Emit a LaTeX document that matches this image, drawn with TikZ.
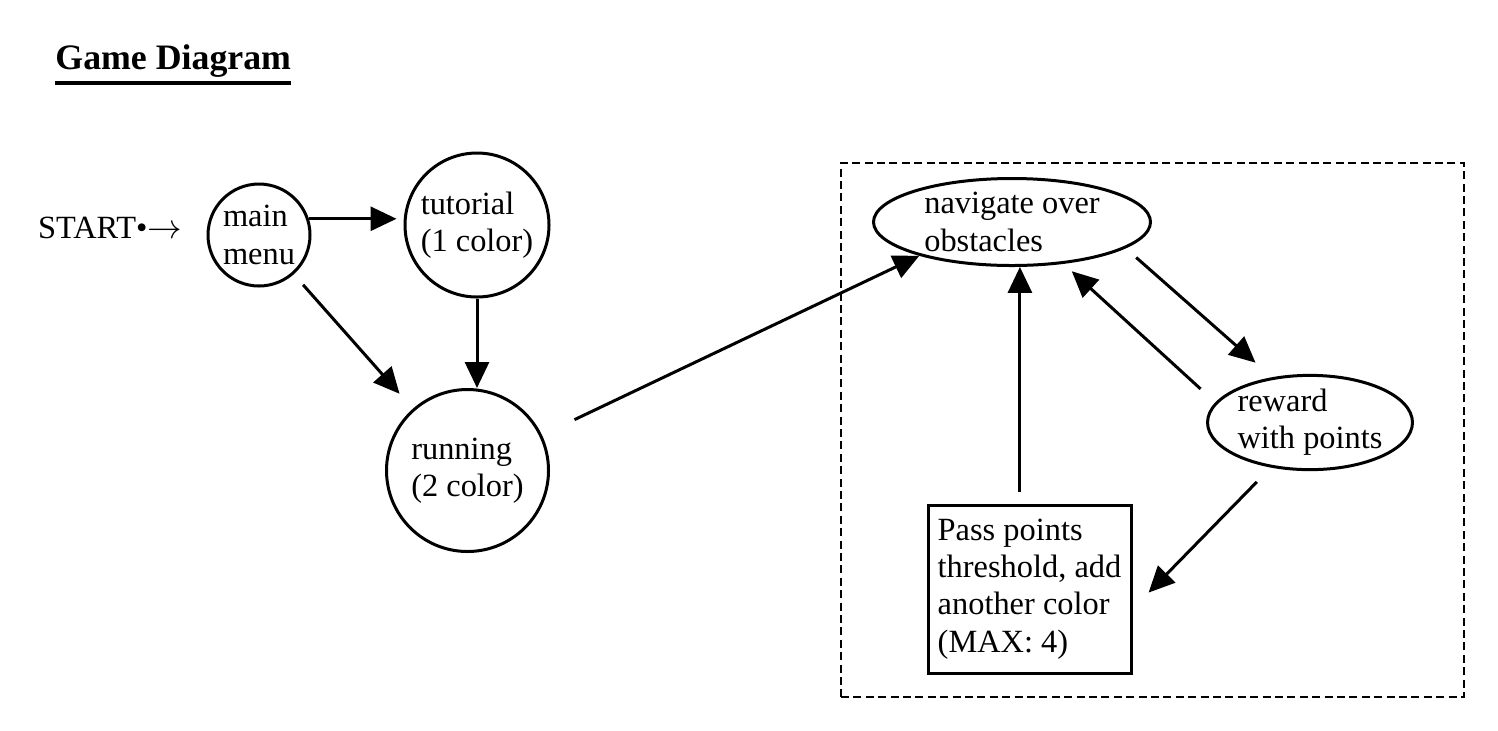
\documentclass[tikz,border=0pt]{standalone}
\usepackage{fontspec}
\setmainfont{Liberation Serif}
\usetikzlibrary{shapes,arrows.meta,positioning}
\def\Title{Game Diagram}
\newcommand\ulthick[1]{\vtop{\hbox{#1}\kern2.2pt\hrule height1.6pt}}

\begin{document}
\begin{tikzpicture}[% styles for the whole picture, units are image pixels with y going down
		x=0.5pt, y=-0.5pt,
		every node/.style={
			align=left,		% lines start at the left, "\\" breaks them
			font=\fontsize{16.2pt}{18.65pt}\selectfont
		},
		state/.style={circle,draw,line width=1.5pt,inner sep=0pt},
		task/.style={ellipse,draw,line width=1.5pt,inner sep=0pt},
		every edge/.style={draw,line width=1.5pt},
		>={Triangle[length=13pt,width=12pt]}
	]
	\useasboundingbox (0,0) rectangle (1498,730);
	\node[anchor=base west,inner sep=0pt,font=\fontsize{17.9pt}{21pt}\selectfont\bfseries](T0) at (55,69){\ulthick{\Title}};
	% group round the game loop
	\node[draw,line width=1.4pt,dash pattern=on 4pt off 2.2pt,minimum width=311.5pt,minimum height=267pt,inner sep=0pt](D1) at (1152.5,430){};
	\node[state,minimum size=51pt](C1) at (259,235){main\\menu};
	\node[state,minimum size=72pt](C2) at (477,225){tutorial\\(1 color)};
	\node[state,minimum size=81pt](C3) at (467.5,470.5){running\\(2 color)};
	\node[inner sep=0pt](S0)[left=12pt of C1,yshift=3.5pt]{START•$\rightarrow$};
	\node[task,minimum width=138.5pt,minimum height=43.5pt](E1) at (1012,222){navigate over\\obstacles};
	\node[task,minimum width=101.5pt,minimum height=43.5pt](E2) at (1310,422.5){reward\\with points};
	\node[rectangle,draw,line width=1.5pt,inner sep=4pt,minimum width=101.5pt,minimum height=84pt](B1) at (1029.5,589){Pass points\\threshold, add\\another color\\(MAX: 4)};
	\path[->]
	(C1.18) edge [shorten >=3.5pt] (C2.west |- C1.18)
	(C1) edge [shorten <=7pt,shorten >=10pt] (C3)
	(C2.south) edge [] (C2.south |- C3.north)
	(C3) edge [shorten <=18pt] (E1.200)
	(E1.-13) edge [shorten <=7pt,shorten >=11pt] (E2.130)
	(E2.168) edge [shorten <=10pt,shorten >=5.5pt] (E1.-39)
	(B1.north -| E1.-80) edge [shorten <=6pt] (E1.-80)
	(E2.-131) edge [shorten <=10pt,shorten >=11.5pt] (B1.-11)
	;
\end{tikzpicture}
\end{document}
